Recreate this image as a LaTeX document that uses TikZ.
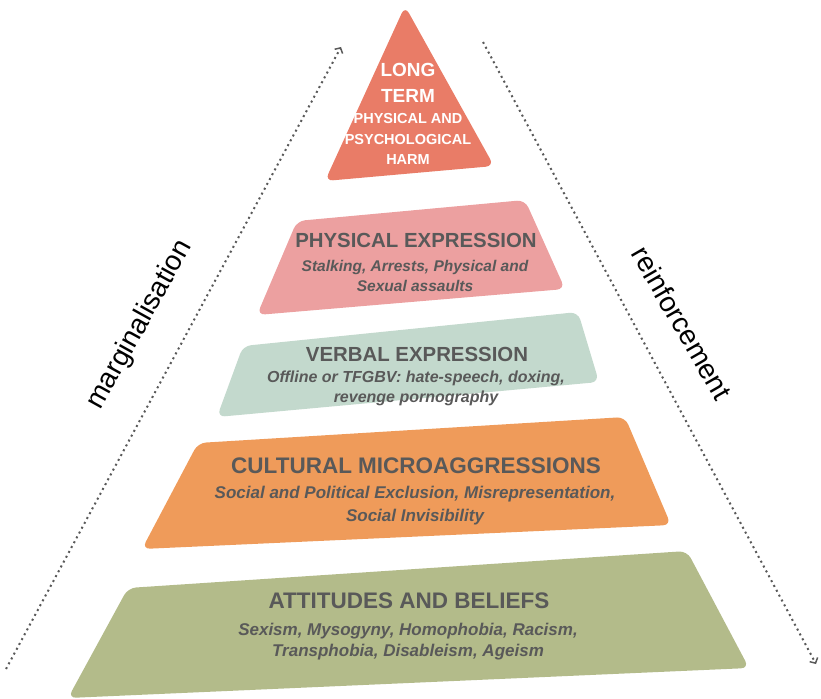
\documentclass[tikz,border=0pt]{standalone}
\usepackage{fontspec}
\setmainfont{Liberation Sans}
\usetikzlibrary{arrows.meta,positioning}
\definecolor{harmred}{HTML}{E97C67}
\definecolor{physpink}{HTML}{ECA0A0}
\definecolor{verbgreen}{HTML}{C3D9CD}
\definecolor{cultorange}{HTML}{EF9B5A}
\definecolor{attolive}{HTML}{B3BB8A}
\definecolor{textgrey}{HTML}{595959}

\begin{document}
\begin{tikzpicture}[x=1pt,y=-1pt,
  tier/.style={rounded corners=8},
  title/.style={font=\bfseries\fontsize{20.4}{24}\selectfont,text=textgrey},
  bigtitle/.style={font=\bfseries\fontsize{22.5}{26}\selectfont,text=textgrey},
  sub/.style 2 args={font=\bfseries\itshape\fontsize{#1}{#2}\selectfont,text=textgrey,align=center},
  peak/.style={font=\bfseries\fontsize{19}{26}\selectfont,text=white,align=center},
  peaksub/.style={font=\bfseries\fontsize{14.5}{20.5}\selectfont,text=white,align=center},
  flow/.style={draw=textgrey,line width=2pt,dash pattern=on 2pt off 3.5pt,
    -{Straight Barb[length=4pt,width=9pt,line width=1.5pt]}},
  side/.style={font=\fontsize{28}{32}\selectfont}]
\useasboundingbox (0,0) rectangle (821,698);

\fill[harmred,tier] (405,6) -- (494,166) -- (325,181) -- cycle;
\fill[physpink,tier] (297,221) -- (525,200) -- (565,289) -- (257,315) -- cycle;
\fill[verbgreen,tier] (243,346) -- (578,312) -- (599,382) -- (217,417) -- cycle;
\fill[cultorange,tier] (198,443) -- (625,417) -- (671,525) -- (142,549) -- cycle;
\fill[attolive,tier] (128,588) -- (687,551) -- (749,668) -- (68,698) -- cycle;

\node[peak] (harmT) at (408,83) {LONG\\TERM};
\node[peaksub] (harmS) at (408,139) {PHYSICAL AND\\PSYCHOLOGICAL\\HARM};

\node[title] (physT) at (416,240) {PHYSICAL EXPRESSION};
\node[sub={15.5}{20}] (physS) at (415,276) {Stalking, Arrests, Physical and\\Sexual assaults};

\node[title] (verbT) at (417,354) {VERBAL EXPRESSION};
\node[sub={16}{20}] (verbS) at (416,388) {Offline or TFGBV: hate-speech, doxing,\\revenge pornography};

\node[bigtitle] (cultT) at (416,466) {CULTURAL MICROAGGRESSIONS};
\node[sub={17}{23}] (cultS) at (415,506) {Social and Political Exclusion, Misrepresentation,\\Social Invisibility};

\node[bigtitle] (attT) at (409,601) {ATTITUDES AND BELIEFS};
\node[sub={17}{21}] (attS) at (408,642) {Sexism, Mysogyny, Homophobia, Racism,\\Transphobia, Disableism, Ageism};

\coordinate (mBot) at (6,669);
\coordinate (mTop) at (341,47);
\coordinate (rTop) at (483,42);
\coordinate (rBot) at (816,664);
\draw[flow] (mBot) -- (mTop);
\draw[flow] (rTop) -- (rBot);

\node[side,rotate=61] (marg) at (140,325) {marginalisation};
\node[side,rotate=-60] (reinf) at (682,323) {reinforcement};
\end{tikzpicture}
\end{document}
